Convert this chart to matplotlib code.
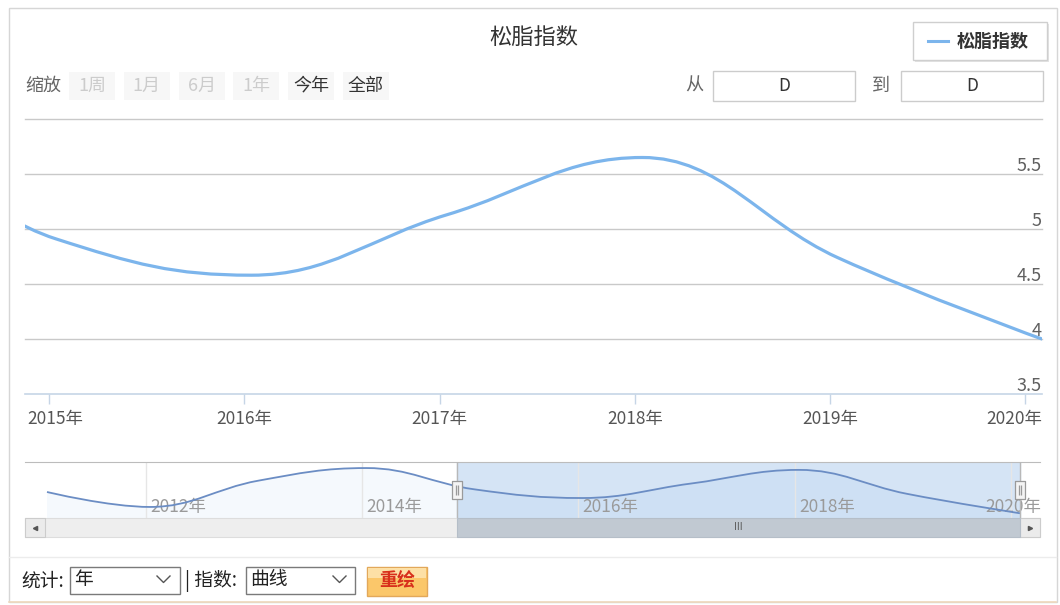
import numpy as np
import matplotlib
matplotlib.use('Agg')
import matplotlib.pyplot as plt
import matplotlib.dates as mdates
from matplotlib.path import Path
from matplotlib.patches import PathPatch, Rectangle

plt.rcParams['font.family'] = ['Noto Sans CJK SC', 'DejaVu Sans']

# Datos (松脂指数, un punto por año)
fechas = ['2011-02-01', '2012-01-15', '2013-01-15', '2014-01-15', '2015-01-15',
          '2016-01-15', '2017-01-15', '2018-01-15', '2019-01-15', '2020-02-01']
valores = [4.81, 4.24, 5.24, 5.72, 4.91, 4.58, 5.13, 5.65, 4.74, 4.00]
titulo = '松脂指数'
rango_inicio = '2014-11-18'
rango_fin = '2020-02-01'
y_ticks = [3.5, 4, 4.5, 5, 5.5]
y_etiquetas = ['3.5', '4', '4.5', '5', '5.5']
botones = ['1周', '1月', '6月', '1年', '今年', '全部']
botones_activos = [False, False, False, False, True, True]

AZUL = '#7cb5ec'
W, H = 1060, 605

x_num = mdates.date2num(np.array(fechas, dtype='datetime64[D]'))
x_ini = mdates.date2num(np.datetime64(rango_inicio))
x_fin = mdates.date2num(np.datetime64(rango_fin))


# Spline al estilo Highcharts (curvas de Bezier cúbicas)
def camino_spline(xs, ys, suavizado=1.5):
    n = len(xs)
    den = suavizado + 1
    izq = [None] * n
    der = [None] * n
    for i in range(1, n - 1):
        px, py = xs[i], ys[i]
        lx, ly = xs[i - 1], ys[i - 1]
        nx, ny = xs[i + 1], ys[i + 1]
        lcx = (suavizado * px + lx) / den
        lcy = (suavizado * py + ly) / den
        rcx = (suavizado * px + nx) / den
        rcy = (suavizado * py + ny) / den
        corr = (rcy - lcy) * (rcx - px) / (rcx - lcx) + py - rcy
        lcy += corr
        rcy += corr
        if lcy > ly and lcy > py:
            lcy = max(ly, py); rcy = 2 * py - lcy
        elif lcy < ly and lcy < py:
            lcy = min(ly, py); rcy = 2 * py - lcy
        if rcy > ny and rcy > py:
            rcy = max(ny, py); lcy = 2 * py - rcy
        elif rcy < ny and rcy < py:
            rcy = min(ny, py); lcy = 2 * py - rcy
        izq[i] = (lcx, lcy)
        der[i] = (rcx, rcy)
    verts = [(xs[0], ys[0])]
    codes = [Path.MOVETO]
    for i in range(1, n):
        c1 = der[i - 1] if der[i - 1] else (xs[i - 1], ys[i - 1])
        c2 = izq[i] if izq[i] else (xs[i], ys[i])
        verts += [c1, c2, (xs[i], ys[i])]
        codes += [Path.CURVE4] * 3
    return verts, codes


fig = plt.figure(figsize=(W / 100, H / 100), dpi=100)

# Capa de fondo en pixeles
ax0 = fig.add_axes([0, 0, 1, 1])
ax0.set_xlim(0, W)
ax0.set_ylim(H, 0)
ax0.axis('off')

ax0.add_patch(Rectangle((8.5, 7.5), 1048, 594, fill=False, ec='#d6d6d6', lw=1))
ax0.plot([9, 1056], [601.5, 601.5], color='#efd9bd', lw=1.2)
ax0.plot([9, 1056], [557, 557], color='#ececec', lw=1)

# Titulo y leyenda
ax0.text(534, 37, titulo, ha='center', va='center', fontsize=16, color='#333333')
ax0.add_patch(Rectangle((915, 24), 134, 38, fc='#e4e4e4', ec='none'))
ax0.add_patch(Rectangle((913, 22), 134, 38, fc='white', ec='#cfcfcf', lw=1))
ax0.plot([928, 948], [41, 41], color=AZUL, lw=2.2)
ax0.text(957, 41, titulo, ha='left', va='center', fontsize=13,
         fontweight='bold', color='#333333')

# Selector de rango
ax0.text(25, 86, '缩放', ha='left', va='center', fontsize=13, color='#666666')
for i, (b, activo) in enumerate(zip(botones, botones_activos)):
    bx = 69 + i * 54.8
    ax0.add_patch(Rectangle((bx, 72), 46, 28, fc='#f7f7f7', ec='none'))
    ax0.text(bx + 23, 86, b, ha='center', va='center', fontsize=13,
             color='#333333' if activo else '#cccccc')

ax0.text(694, 86, '从', ha='center', va='center', fontsize=13, color='#666666')
ax0.add_patch(Rectangle((713, 71), 142, 30, fc='white', ec='#cccccc', lw=1))
ax0.text(784, 86, 'D', ha='center', va='center', fontsize=12.5, color='#333333')
ax0.text(881, 86, '到', ha='center', va='center', fontsize=13, color='#666666')
ax0.add_patch(Rectangle((901, 71), 142, 30, fc='white', ec='#cccccc', lw=1))
ax0.text(972, 86, 'D', ha='center', va='center', fontsize=12.5, color='#333333')

# Controles inferiores
ax0.text(21, 581, '统计:', ha='left', va='center', fontsize=13.5, color='#222222')
ax0.add_patch(Rectangle((70, 567), 110, 27, fc='white', ec='#7a7a7a', lw=1))
ax0.text(74, 580, '年', ha='left', va='center', fontsize=13.5, color='#222222')
ax0.plot([157, 163.5, 170], [576, 582.5, 576], color='#555555', lw=1)
ax0.text(185, 581, '| 指数:', ha='left', va='center', fontsize=13.5, color='#222222')
ax0.add_patch(Rectangle((246, 567), 109, 27, fc='white', ec='#7a7a7a', lw=1))
ax0.text(250, 580, '曲线', ha='left', va='center', fontsize=13.5, color='#222222')
ax0.plot([333, 339.5, 346], [576, 582.5, 576], color='#555555', lw=1)
ax0.add_patch(Rectangle((367, 567), 60, 29, fc='#fbc76a', ec='#e2a85a', lw=1))
ax0.add_patch(Rectangle((368, 568), 58, 10, fc='#fde0a6', ec='none'))
ax0.text(397, 581, '重绘', ha='center', va='center', fontsize=13,
         fontweight='bold', color='#d8301c')

# Grafico principal
ax = fig.add_axes([25 / W, (H - 394) / H, 1017 / W, 275 / H])
ax.set_facecolor('none')
ax.set_xlim(x_ini, x_fin)
ax.set_ylim(3.5, 6.0)
for s in ax.spines.values():
    s.set_visible(False)
for v in y_ticks[1:] + [6.0]:
    ax.axhline(v, color='#c9c9c9', lw=1, clip_on=False, zorder=1)
ax.axhline(3.5, color='#c6d5e6', lw=1.2, clip_on=False, zorder=1)
ax.set_yticks([])
for v, et in zip(y_ticks, y_etiquetas):
    ax.annotate(et, xy=(1, v), xycoords=ax.get_yaxis_transform(),
                xytext=(0, 2.5), textcoords='offset points',
                ha='right', va='baseline', fontsize=13, color='#606060')

ax.xaxis.set_major_locator(mdates.YearLocator())
ax.tick_params(axis='x', length=7.5, width=1, color='#c6d5e6', labelbottom=False)
fmt = mdates.DateFormatter('%Y年')
ticks = [t for t in ax.get_xticks() if x_ini <= t <= x_fin]
for k, t in enumerate(ticks):
    if k == 0:
        ax.annotate(fmt(t), xy=(0, 0), xycoords='axes fraction', xytext=(2, -18),
                    textcoords='offset points', ha='left', va='center',
                    fontsize=12.5, color='#555555')
    elif k == len(ticks) - 1:
        ax.annotate(fmt(t), xy=(1, 0), xycoords='axes fraction', xytext=(0, -18),
                    textcoords='offset points', ha='right', va='center',
                    fontsize=12.5, color='#555555')
    else:
        ax.annotate(fmt(t), xy=(t, 0), xycoords=ax.get_xaxis_transform(),
                    xytext=(0, -18), textcoords='offset points', ha='center',
                    va='center', fontsize=12.5, color='#555555')

verts, codes = camino_spline(list(x_num), valores)
ax.add_patch(PathPatch(Path(verts, codes), fill=False, ec=AZUL, lw=2.3,
                       zorder=3, capstyle='round'))

# Navegador
px_dia = (1020 - 47) / (x_num[-1] - x_num[0])
nav = fig.add_axes([25 / W, (H - 518) / H, 1015 / W, 56 / H])
nav.set_facecolor('none')
nav.set_xlim(x_num[0] - 22 / px_dia, x_num[-1] + 20 / px_dia)
nav.set_ylim(3.82, 5.95)
for s in ['left', 'right', 'bottom']:
    nav.spines[s].set_visible(False)
nav.spines['top'].set_color('#bcbcbc')
nav.xaxis.set_major_locator(mdates.YearLocator(2))
nav_ticks = [t for t in nav.get_xticks() if x_num[0] <= t <= x_num[-1]]
nav.set_xticks([])
nav.set_yticks([])

nav.axvspan(x_ini, x_fin, color='#d5e4f5', zorder=0)
area_v = verts + [(x_num[-1], 3.82), (x_num[0], 3.82), verts[0]]
area_c = codes + [Path.LINETO, Path.LINETO, Path.CLOSEPOLY]
nav.add_patch(PathPatch(Path(area_v, area_c), fc=AZUL, alpha=0.07, ec='none', zorder=1))

for k, t in enumerate(nav_ticks):
    nav.axvline(t, color='#e6e6e6', lw=1, zorder=1)
    if k == len(nav_ticks) - 1:
        nav.annotate(fmt(t), xy=(1, 0.2), xycoords='axes fraction', xytext=(1, 0),
                     textcoords='offset points', ha='right', va='center',
                     fontsize=12.5, color='#9a9a9a', zorder=2)
    else:
        nav.annotate(fmt(t), xy=(t, 0.2), xycoords=nav.get_xaxis_transform(),
                     xytext=(3, 0), textcoords='offset points', ha='left',
                     va='center', fontsize=12.5, color='#9a9a9a', zorder=2)

nav.add_patch(PathPatch(Path(verts, codes), fill=False, ec='#6b8dc4', lw=1.3, zorder=3))
for xv in [x_ini, x_fin]:
    nav.axvline(xv, color='#b8b8b8', lw=1, zorder=3)

# Manijas
manija = Path([(-0.5, -1), (0.5, -1), (0.5, 1), (-0.5, 1), (-0.5, -1),
               (-0.15, -0.55), (-0.15, 0.55), (0.15, -0.55), (0.15, 0.55)],
              [Path.MOVETO, Path.LINETO, Path.LINETO, Path.LINETO, Path.CLOSEPOLY,
               Path.MOVETO, Path.LINETO, Path.MOVETO, Path.LINETO])
nav.plot([x_ini, x_fin], [0.5, 0.5], transform=nav.get_xaxis_transform(),
         ls='none', marker=manija, ms=13.5, mfc='#f4f4f4', mec='#9a9a9a',
         mew=0.9, zorder=5, clip_on=False)

# Barra de desplazamiento
trans = nav.get_xaxis_transform()
nav.add_patch(Rectangle((x_ini, -19 / 56), x_fin - x_ini, 19 / 56, transform=trans,
                        fc='#c1c9d2', ec='#b5bec8', lw=0.8, clip_on=False, zorder=2))
nav.text((x_ini + x_fin) / 2, -9.5 / 56, 'III', transform=trans, ha='center',
         va='center', fontsize=7, color='#5a5a5a', family='DejaVu Sans',
         clip_on=False)
ax0.add_patch(Rectangle((25, 518), 1015, 19, fc='#eeeeee', ec='#dddddd', lw=0.8, zorder=0))
ax0.add_patch(Rectangle((25, 518), 20, 19, fc='#ebebeb', ec='#cccccc', lw=0.8, zorder=1))
ax0.add_patch(Rectangle((1020, 518), 20, 19, fc='#ebebeb', ec='#cccccc', lw=0.8, zorder=1))
ax0.plot([35], [527.5], marker='<', ms=3, color='#555555')
ax0.plot([1030], [527.5], marker='>', ms=3, color='#555555')

fig.savefig('out.png', dpi=100)
